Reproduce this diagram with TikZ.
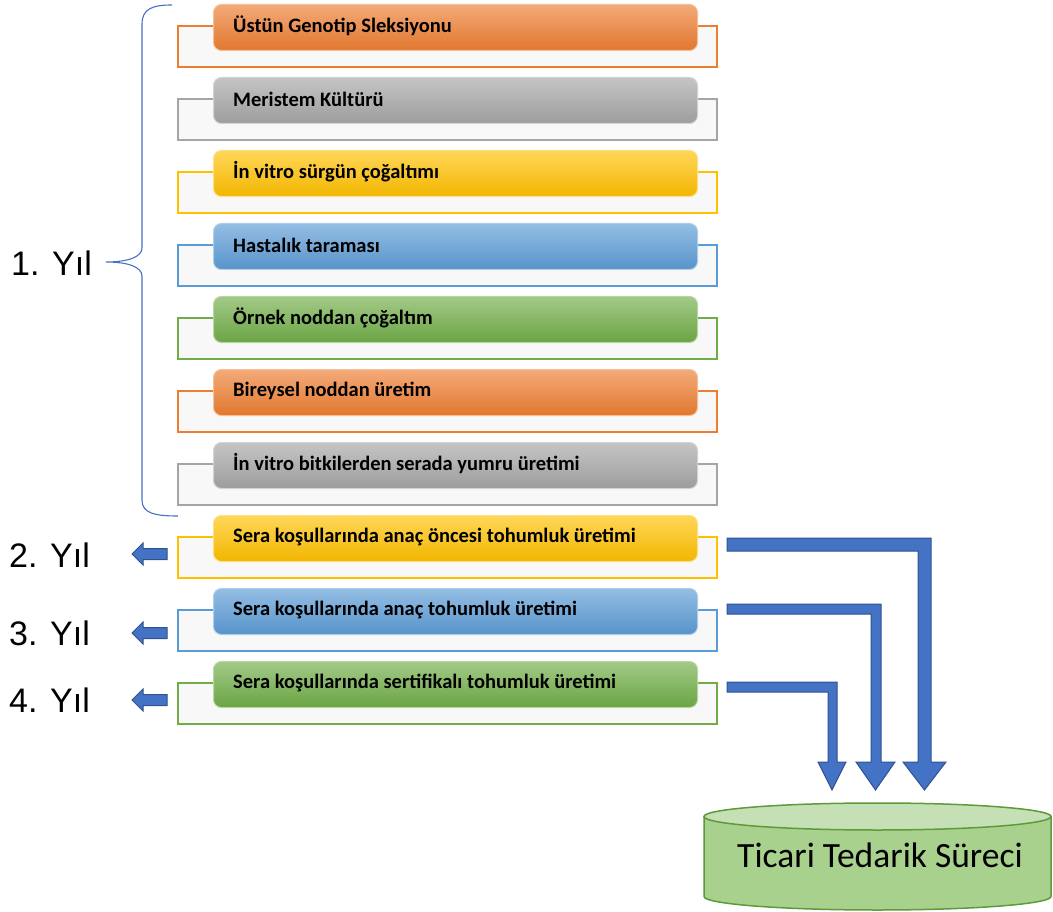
\documentclass[tikz,border=0pt]{standalone}
\usepackage{fontspec}
\setmainfont{Carlito}
\newfontfamily\arialf{Liberation Sans}
\definecolor{corange}{HTML}{ED7D31}
\definecolor{cgray}{HTML}{A5A5A5}
\definecolor{cgold}{HTML}{FFC000}
\definecolor{cblue}{HTML}{5B9BD5}
\definecolor{cgreen}{HTML}{70AD47}
\definecolor{backfill}{HTML}{F8F8F8}
\definecolor{arrfill}{HTML}{4472C4}
\definecolor{arrline}{HTML}{2F528F}
\definecolor{cylbody}{HTML}{A9D18E}
\definecolor{cyltop}{HTML}{C5E0B4}
\definecolor{cylline}{HTML}{5E9A3C}
\begin{document}
\begin{tikzpicture}[x=1pt,y=-1pt,
  backbox/.style={draw=#1, line width=1.6pt, fill=backfill, minimum width=539pt, minimum height=41pt, inner sep=0pt, anchor=north west},
  frontbox/.style={rounded corners=8pt, top color=#1!65!white, middle color=#1, bottom color=#1!95!black, draw=#1!50!white, line width=1pt, minimum width=484pt, minimum height=46pt, inner sep=0pt, anchor=north west},
  lbl/.style={font=\bfseries\fontsize{20.5}{24}\selectfont, inner sep=0pt, anchor=west, text=black},
  yil/.style={font=\arialf\fontsize{34}{40}\selectfont, inner sep=0pt, anchor=west, text=black},
  blockarrow/.style={fill=arrfill, draw=arrline, line width=1pt, line join=miter}
]
\useasboundingbox (0,0) rectangle (1053,912);

% brace
\draw[arrfill, line width=1.1pt] (172,5) .. controls (152,5) and (142,9) .. (142,24) -- (142,248)
  .. controls (142,257) and (128,262) .. (106,262) .. controls (128,262) and (142,267) .. (142,276)
  -- (142,500) .. controls (142,513) and (154,516) .. (178,516);

\foreach \i/\c/\t in {0/corange/Üstün Genotip Sleksiyonu,
  1/cgray/Meristem Kültürü,
  2/cgold/İn vitro sürgün çoğaltımı,
  3/cblue/Hastalık taraması,
  4/cgreen/Örnek noddan çoğaltım,
  5/corange/Bireysel noddan üretim,
  6/cgray/İn vitro bitkilerden serada yumru üretimi,
  7/cgold/Sera koşullarında anaç öncesi tohumluk üretimi,
  8/cblue/Sera koşullarında anaç tohumluk üretimi,
  9/cgreen/Sera koşullarında sertifikalı tohumluk üretimi} {
  \node[backbox=\c] (b\i) at (177,{4+73*\i+21}) {};
  \node[frontbox=\c] (f\i) at (213,{4+73*\i}) {};
  \node[lbl] (t\i) at (233,{4+73*\i+22}) {\t};
}

% year labels
\node[yil] (y1) at (11,263) {1. Yıl};
\node[yil] (y2) at (9,555) {2. Yıl};
\node[yil] (y3) at (9,633) {3. Yıl};
\node[yil] (y4) at (9,700) {4. Yıl};

% small left arrows
\foreach \c in {554,633,700} {
  \draw[blockarrow] (132,\c) -- (143,{\c-11}) -- (143,{\c-5.5}) -- (167,{\c-5.5}) -- (167,{\c+5.5}) -- (143,{\c+5.5}) -- (143,{\c+11}) -- cycle;
}

% L arrows
\draw[blockarrow] (727,538) -- (931,538) -- (931,762) -- (946,762) -- (924.5,790) -- (903,762) -- (918,762) -- (918,551) -- (727,551) -- cycle;
\draw[blockarrow] (727,604) -- (881,604) -- (881,762) -- (895,762) -- (875.5,790) -- (856,762) -- (871,762) -- (871,614) -- (727,614) -- cycle;
\draw[blockarrow] (727,682) -- (837,682) -- (837,762) -- (846,762) -- (832,790) -- (818,762) -- (828,762) -- (828,692) -- (727,692) -- cycle;

% cylinder
\draw[fill=cylbody, draw=cylline, line width=1.5pt] (704,816.5) -- (704,896.5) arc[start angle=180, end angle=0, x radius=173.5, y radius=13.5] -- (1051,816.5) -- cycle;
\draw[fill=cyltop, draw=cylline, line width=1.5pt] (877.5,816.5) ellipse [x radius=173.5, y radius=13.5];
\node[font=\fontsize{35.5}{40}\selectfont, inner sep=0pt, anchor=base] (ticari) at (880,867) {Ticari Tedarik Süreci};
\end{tikzpicture}
\end{document}
